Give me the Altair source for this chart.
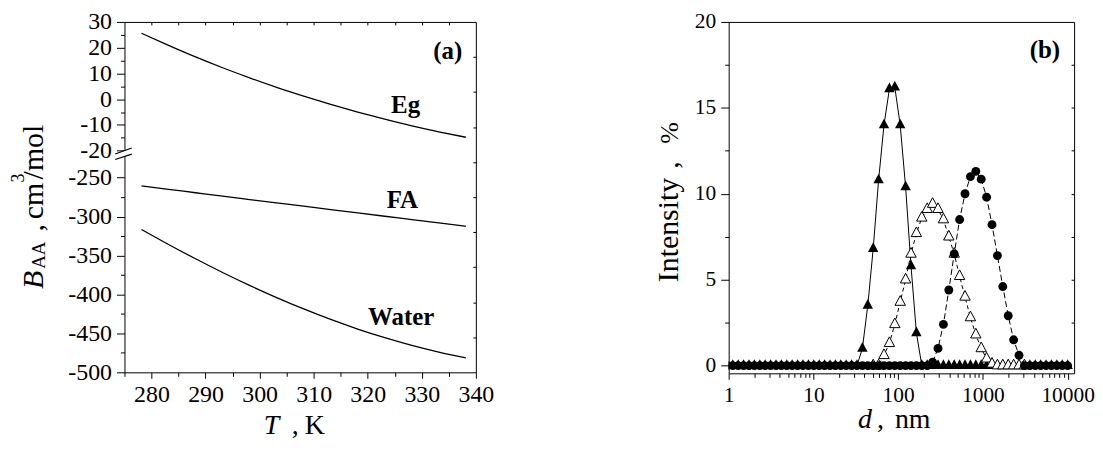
import altair as alt
import pandas as pd

FONT = "Liberation Serif"

# ---------------- panel (a): B_AA vs T ----------------
T_K = [278.15, 283.15, 288.15, 293.15, 298.15, 303.15, 308.15,
       313.15, 318.15, 323.15, 328.15, 333.15, 338.15]
B_Eg = [25.6, 20.9, 16.4, 12.2, 8.3, 4.6, 1.2, -2.0, -5.0, -7.8, -10.4, -12.7, -14.8]
B_FA = [-260.5, -265.0, -269.4, -273.8, -278.1, -282.4, -286.7, -291.0,
        -295.3, -299.6, -303.9, -308.2, -312.5]
B_Water = [-316.6, -335.8, -354.2, -371.8, -388.4, -404.0, -418.6, -432.1,
           -444.4, -455.5, -465.4, -474.0, -481.5]
series_a = ["Eg", "FA", "Water"]
label_T = [327.0, 326.4, 326.2]
label_B = [-5.5, -289.1, -439.8]

x_major_a = [280, 290, 300, 310, 320, 330, 340]
x_minor_a = [275, 285, 295, 305, 315, 325, 335]
x_top_a = [280, 285, 290, 295, 300, 305, 310, 315, 320, 325, 330, 335]
y_major_a = [-500, -450, -400, -350, -300, -250, -20, -10, 0, 10, 20, 30]
y_minor_a = [-475, -425, -375, -325, -275, -15, -5, 5, 15, 25]
right_ticks_a = [1, 2, 3, 4, 5, 6, 7, 8, 9]

# ---------------- panel (b): size distributions ----------------
d_nm = [0.9649, 1.117, 1.294, 1.499, 1.736, 2.010, 2.328, 2.696, 3.122, 3.615,
        4.187, 4.849, 5.615, 6.503, 7.531, 8.721, 10.10, 11.70, 13.54, 15.69,
        18.17, 21.04, 24.36, 28.21, 32.67, 37.84, 43.82, 50.75, 58.77, 68.06,
        78.82, 91.28, 105.7, 122.4, 141.8, 164.2, 190.1, 220.2, 255.0, 295.3,
        342.0, 396.1, 458.7, 531.2, 615.1, 712.4, 825.0, 955.4, 1106, 1281,
        1484, 1718, 1990, 2305, 2669, 3091, 3580, 4145, 4801, 5560,
        6439, 7456, 8635, 10000]
I_tri_filled = [0] * 25 + [1.0, 3.5, 6.8, 10.8, 14.0, 16.1, 16.2, 14.0, 10.4, 5.8, 1.9] + [0] * 28
d_open = d_nm[27:56]
I_tri_open = [0, 0, 0.6, 1.3, 2.4, 3.7, 5.0, 6.5, 7.7, 8.6, 9.1, 9.4, 9.1, 8.5, 7.5,
              6.5, 5.2, 4.0, 2.8, 1.8, 1.0, 0.4, 0.1, 0, 0, 0, 0, 0, 0]
I_circle = [0] * 38 + [0.2, 1.0, 2.4, 4.4, 6.5, 8.5, 10.0, 11.0, 11.3, 10.85, 9.8,
                       8.2, 6.4, 4.6, 2.9, 1.5, 0.6] + [0] * 9

x_major_b = [1, 10, 100, 1000, 10000]
x_minor_b = [k * 10 ** e for e in range(4) for k in range(2, 10)]
y_major_b = [0, 5, 10, 15, 20]
y_minor_b = [2.5, 7.5, 12.5, 17.5]
y_right_b = [2.5, 5, 7.5, 10, 12.5, 15, 17.5]

W_A, H_A = 353, 352
W_B, H_B = 347, 353

TRI = "M0,-1.35L1.1,0.7L-1.1,0.7Z"
NEG = "datum.value < 0 ? '-' + abs(datum.value) : '' + datum.value"


def ax(**kw):
    base = dict(grid=False, domain=False, title=None, tickColor="black",
                labelColor="black", labelFont=FONT, ticks=True,
                labelFlush=False, labelOverlap=False, tickWidth=1)
    base.update(kw)
    return alt.Axis(**base)


one = pd.DataFrame({"k": [0]})


def txt(s, x, y, size, style="normal", angle=0, weight="normal", align="left"):
    return alt.Chart(one).mark_text(
        text=s, font=FONT, fontSize=size, fontStyle=style, fontWeight=weight,
        angle=angle, align=align, baseline="alphabetic", color="black"
    ).encode(x=alt.value(x), y=alt.value(y))


# ---------- left chart ----------
df_a = pd.DataFrame({
    "T": T_K * 3,
    "B": B_Eg + B_FA + B_Water,
    "s": [s for s in series_a for _ in T_K],
})
xs_a = alt.Scale(domain=[275, 340], nice=False, zero=False)
ys_a = alt.Scale(domain=[-500, -223, -20, 30], range=[H_A, 135.3, 129.3, 0],
                 nice=False, zero=False)

curves = alt.Chart(df_a).mark_line(color="black", strokeWidth=1.3, interpolate="monotone").encode(
    x=alt.X("T:Q", scale=xs_a, axis=ax(orient="bottom", values=x_major_a, tickSize=6,
                                        labelFontSize=24, labelPadding=4)),
    y=alt.Y("B:Q", scale=ys_a, axis=ax(orient="left", values=y_major_a, tickSize=8,
                                        labelFontSize=24, labelPadding=5, labelExpr=NEG)),
    detail="s:N",
)
minor_a = alt.Chart(df_a).mark_point(opacity=0).encode(
    x=alt.X("T:Q", scale=xs_a, axis=ax(orient="bottom", values=x_minor_a, tickSize=4, labels=False)),
    y=alt.Y("B:Q", scale=ys_a, axis=ax(orient="left", values=y_minor_a, tickSize=4, labels=False)),
)
top_a = alt.Chart(df_a).mark_point(opacity=0).encode(
    x=alt.X("T:Q", scale=xs_a, axis=ax(orient="top", values=x_top_a, tickSize=3, offset=-3, labels=False)),
    y=alt.Y("B:Q", scale=ys_a, axis=None),
)
df_lab = pd.DataFrame({"T": label_T, "B": label_B, "txt": series_a})
labels_a = alt.Chart(df_lab).mark_text(
    font=FONT, fontSize=25, fontWeight="bold", color="black", align="center", baseline="alphabetic"
).encode(x=alt.X("T:Q", scale=xs_a, axis=None), y=alt.Y("B:Q", scale=ys_a, axis=None), text="txt:N")
tag_a = alt.Chart(pd.DataFrame({"T": [334.8], "B": [15.6], "txt": ["(a)"]})).mark_text(
    font=FONT, fontSize=25, fontWeight="bold", color="black", align="center", baseline="alphabetic"
).encode(x=alt.X("T:Q", scale=xs_a, axis=None), y=alt.Y("B:Q", scale=ys_a, axis=None), text="txt:N")

gap = alt.Chart(one).mark_rect(color="white").encode(
    x=alt.value(-2), x2=alt.value(2), y=alt.value(129.7), y2=alt.value(134.7))
brk1 = alt.Chart(one).mark_rule(color="black", strokeWidth=1.2).encode(
    x=alt.value(-9.3), x2=alt.value(7.3), y=alt.value(132.7), y2=alt.value(126.7))
brk2 = alt.Chart(one).mark_rule(color="black", strokeWidth=1.2).encode(
    x=alt.value(-9.3), x2=alt.value(7.3), y=alt.value(138.2), y2=alt.value(132.8))

XT_A = 414
titles_a = [
    txt("B", -82, 268.2, 30, style="italic", angle=270),
    txt("AA", -79.5, 248.0, 19, angle=270),
    txt(",", -82, 210.5, 30, angle=270),
    txt("cm", -82, 198.2, 30, angle=270),
    txt("3", -100.5, 161.2, 18, angle=270),
    txt("/mol", -82, 158.2, 30, angle=270),
    txt("T", 140, XT_A, 28, style="italic"),
    txt(",", 168, XT_A, 28),
    txt("K", 181, XT_A, 28),
]

inner_a = alt.layer(curves, minor_a, top_a, labels_a, tag_a, gap, brk1, brk2, *titles_a).resolve_axis(
    x="independent", y="independent")

df_r = pd.DataFrame({"v": [0, 10]})
right_a = alt.Chart(df_r).mark_point(opacity=0).encode(
    y=alt.Y("v:Q", scale=alt.Scale(domain=[0, 10], nice=False, zero=False),
            axis=ax(orient="right", values=right_ticks_a, tickSize=3, offset=-3, labels=False)))

left = alt.layer(inner_a, right_a).resolve_scale(y="independent").properties(width=W_A, height=H_A)

# ---------- right chart ----------
xs_b = alt.Scale(type="log", domain=[1, 11920], nice=False)
ys_b = alt.Scale(domain=[-0.45, 20], nice=False, zero=False)

df_f = pd.DataFrame({"d": d_nm, "I": I_tri_filled})
df_o = pd.DataFrame({"d": d_open, "I": I_tri_open})
df_c = pd.DataFrame({"d": d_nm, "I": I_circle})


def xy(ch, axx=None, axy=None):
    return ch.encode(x=alt.X("d:Q", scale=xs_b, axis=axx), y=alt.Y("I:Q", scale=ys_b, axis=axy))


line_f = xy(alt.Chart(df_f).mark_line(color="black", strokeWidth=1, clip=True),
            ax(orient="bottom", values=x_major_b, tickSize=6, labelFontSize=21.5, labelPadding=5,
               labelExpr="'' + datum.value"),
            ax(orient="left", values=y_major_b, tickSize=8, labelFontSize=21.5, labelPadding=5))
pts_f = xy(alt.Chart(df_f).mark_point(shape=TRI, filled=True, color="black", size=90, opacity=1, clip=True))
line_o = xy(alt.Chart(df_o).mark_line(color="black", strokeWidth=1, strokeDash=[4, 3], clip=True))
pts_o = xy(alt.Chart(df_o).mark_point(shape=TRI, filled=True, fill="white", stroke="black",
                                       strokeWidth=1, size=90, opacity=1, clip=True))
line_c = xy(alt.Chart(df_c).mark_line(color="black", strokeWidth=1, strokeDash=[6, 3], clip=True))
pts_c = xy(alt.Chart(df_c).mark_point(shape="circle", filled=True, color="black", size=80,
                                       opacity=1, clip=True))
minor_b = xy(alt.Chart(df_f).mark_point(opacity=0),
             ax(orient="bottom", values=x_minor_b, tickSize=4, labels=False),
             ax(orient="left", values=y_minor_b, tickSize=4, labels=False))
right_b = xy(alt.Chart(df_f).mark_point(opacity=0), None,
             ax(orient="right", values=y_right_b, tickSize=3, offset=-3, labels=False))
tag_b = alt.Chart(pd.DataFrame({"d": [5400], "I": [17.9], "txt": ["(b)"]})).mark_text(
    font=FONT, fontSize=25, fontWeight="bold", color="black", align="center", baseline="alphabetic"
).encode(x=alt.X("d:Q", scale=xs_b, axis=None), y=alt.Y("I:Q", scale=ys_b, axis=None), text="txt:N")

XT_B = 408
titles_b = [
    txt("Intensity", -51, 261.5, 30, angle=270),
    txt(",", -51, 147.5, 30, angle=270),
    txt("%", -51, 122.5, 26, angle=270),
    txt("d", 130, XT_B, 28, style="italic"),
    txt(",", 149, XT_B, 28),
    txt("nm", 167, XT_B, 28),
]

right = alt.layer(line_f, pts_f, line_o, pts_o, line_c, pts_c, minor_b, right_b, tag_b,
                  *titles_b).resolve_axis(x="independent", y="independent").properties(
    width=W_B, height=H_B)

chart = alt.hconcat(left, right, spacing=254, bounds="flush").properties(
    padding={"left": 2, "top": 0, "right": 0, "bottom": 0}
).configure(font=FONT).configure_axis(labelFont=FONT, titleFont=FONT).configure_view(
    stroke="black", strokeWidth=1)

chart.save("out.html", embed_options={"renderer": "svg", "actions": False})
